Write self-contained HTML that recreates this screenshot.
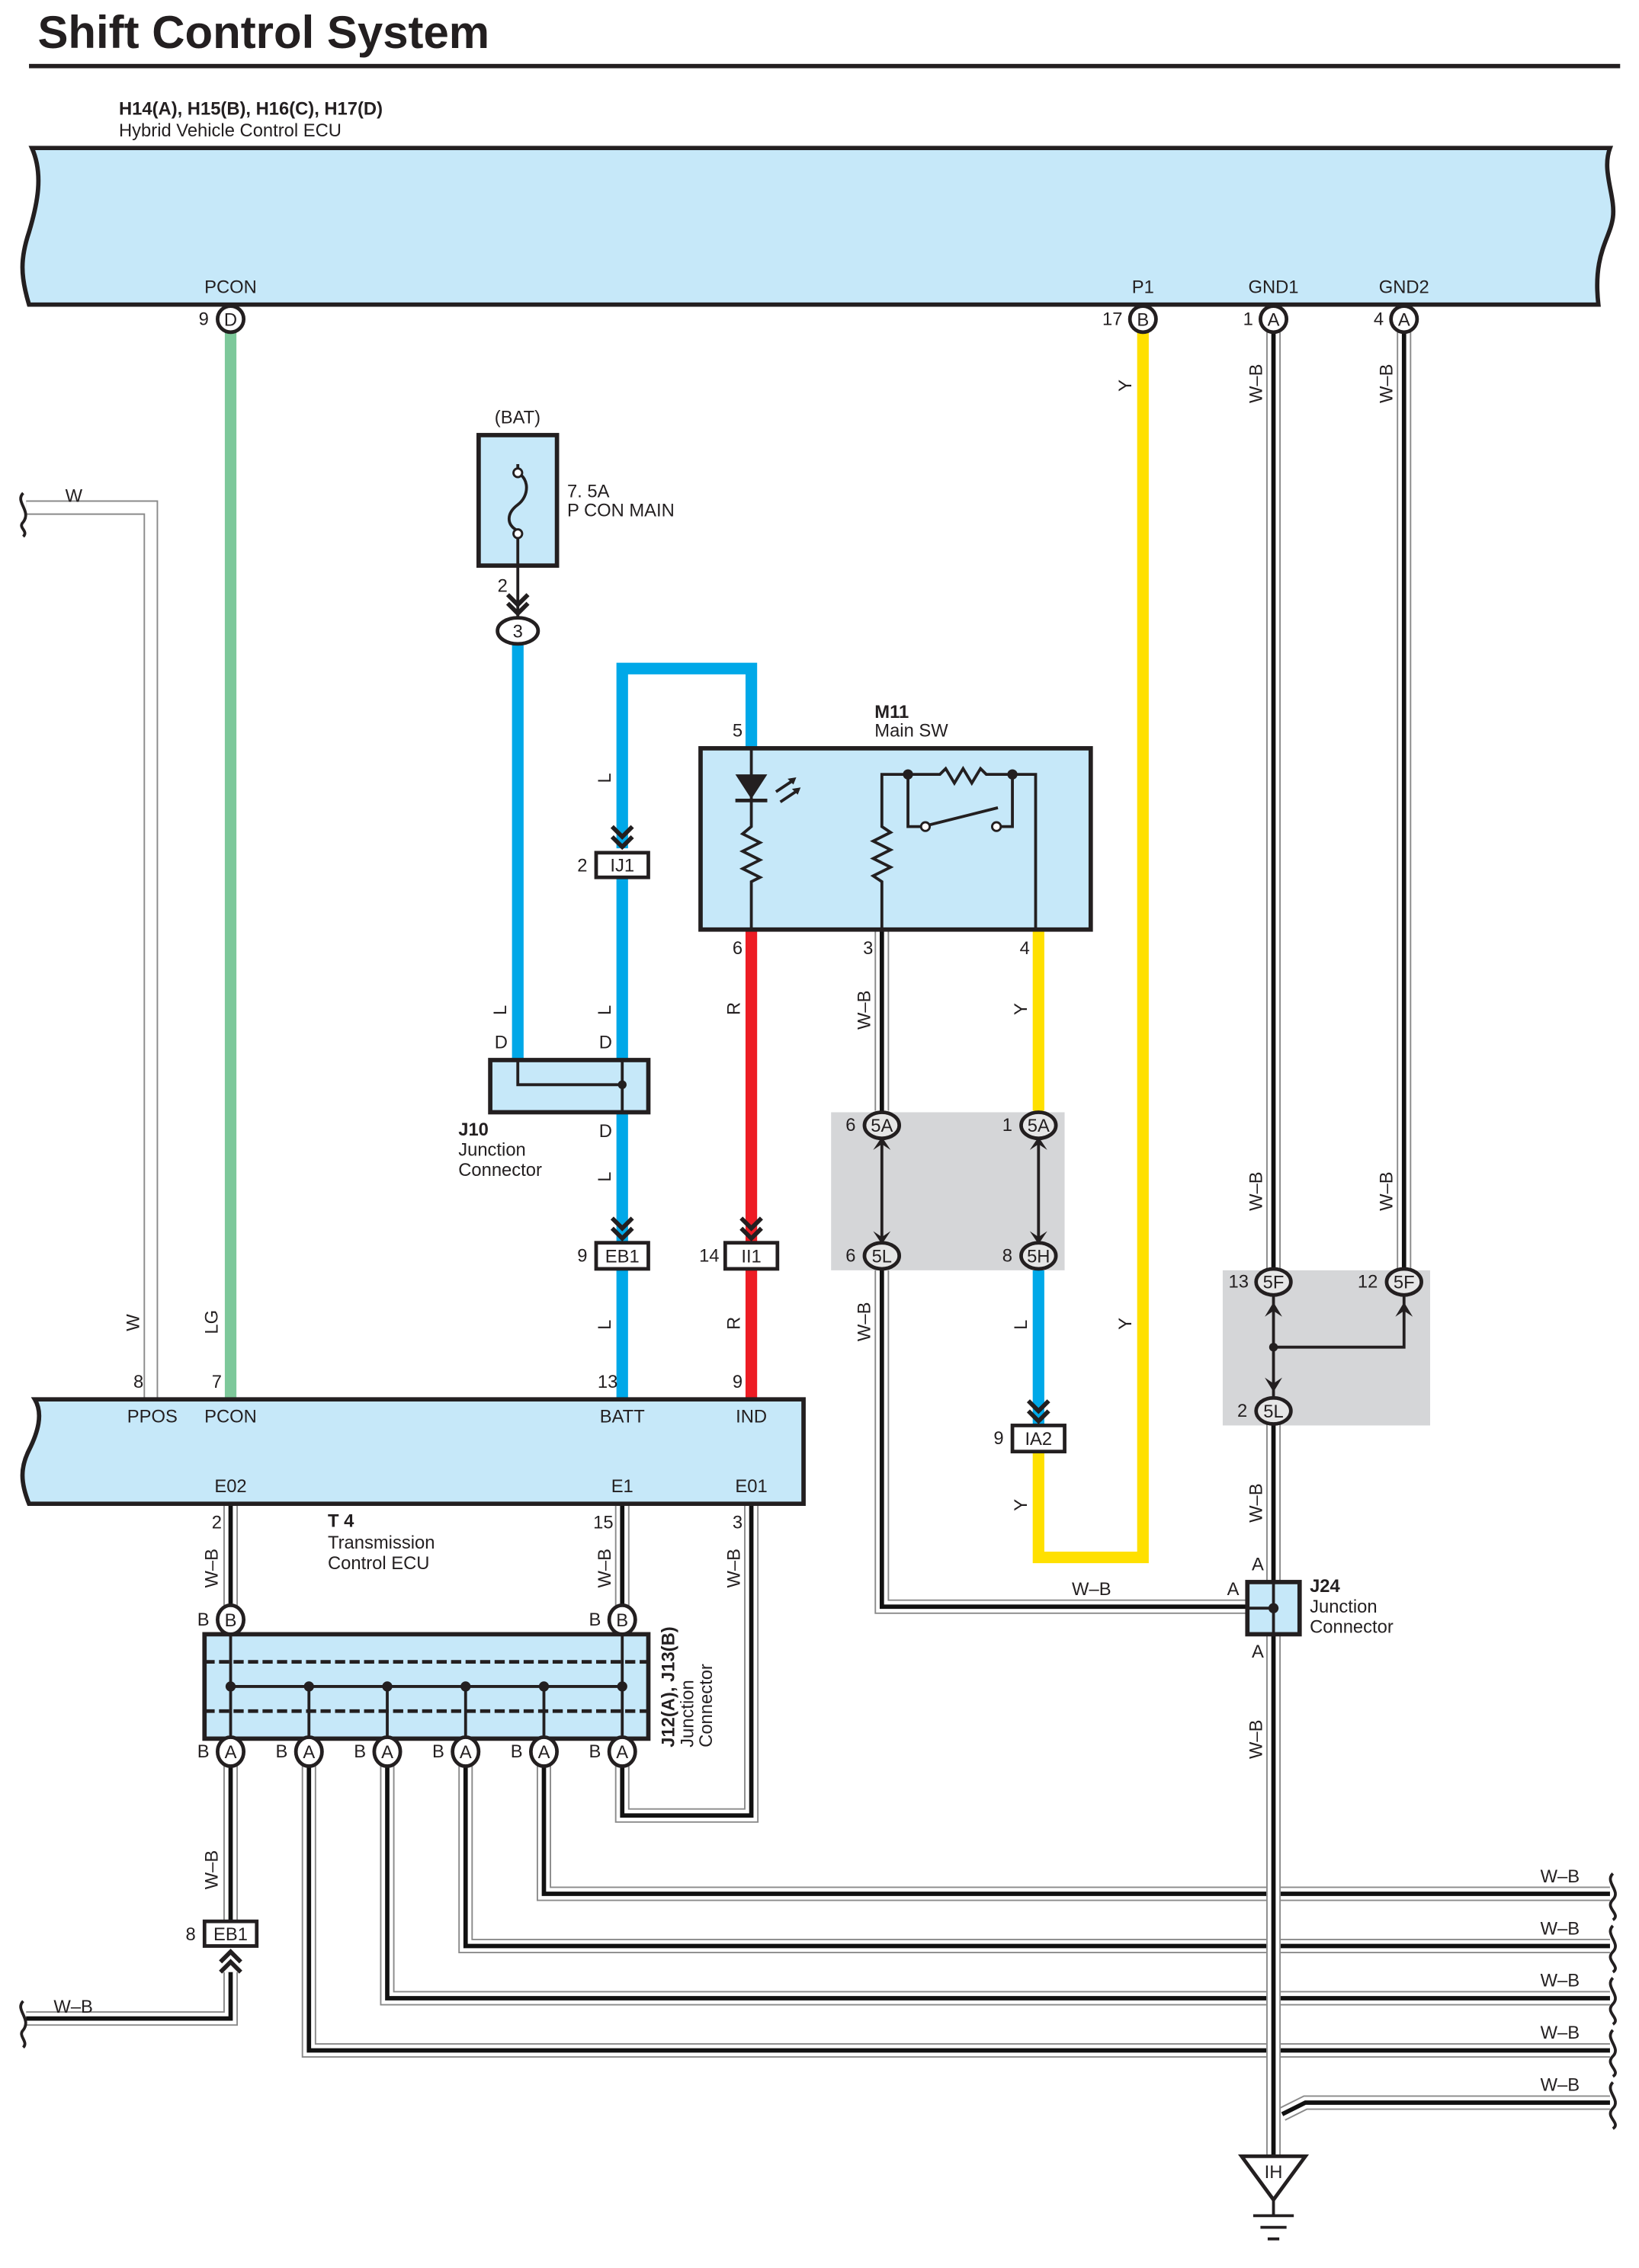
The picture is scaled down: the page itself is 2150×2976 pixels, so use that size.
<!DOCTYPE html>
<html><head><meta charset="utf-8"><style>
html,body{margin:0;padding:0;background:#fff}
svg{display:block}
text{font-family:"Liberation Sans",sans-serif;fill:#231f20}
.s{font-size:12.5px}
.b{font-weight:bold}
.wg{fill:none;stroke:#8a8a8a;stroke-width:10}
.ww{fill:none;stroke:#fff;stroke-width:8}
.wk{fill:none;stroke:#111;stroke-width:3}
.ln{fill:none;stroke:#231f20;stroke-width:2}
.box{fill:#c6e8f9;stroke:#231f20;stroke-width:3}
.ov{fill:#fff;stroke:#231f20;stroke-width:2.5}
.ovg{fill:#e6e6e6;stroke:#231f20;stroke-width:2.5}
.cb{fill:#fff;stroke:#231f20;stroke-width:2.5}
</style></head><body>
<svg width="2150" height="2976" viewBox="0 0 1130 1564" xmlns="http://www.w3.org/2000/svg">
<defs>
<path id="wb1" d="M878,229 V876"/>
<path id="wb2" d="M968,229 V876"/>
<path id="wb3" d="M878,982 V1487"/>
<path id="wb4" d="M608,641 V766"/>
<path id="wb5" d="M608,876 V1108 H860"/>
<path id="wb6" d="M159,1037 V1108"/>
<path id="wb7" d="M429,1037 V1108"/>
<path id="wb8" d="M518,1037 V1252 H429 V1217"/>
<path id="wb9" d="M159,1217 V1325"/>
<path id="wb10" d="M159,1360 V1392 H18"/>
<path id="wb11" d="M213,1217 V1414 H1110"/>
<path id="wb12" d="M267,1217 V1378 H1110"/>
<path id="wb13" d="M321,1217 V1342 H1110"/>
<path id="wb14" d="M375,1217 V1306 H1110"/>
<path id="wb15" d="M1110,1450 H900 L884,1458"/>
</defs>

<!-- title -->
<text x="26" y="33" class="b" style="font-size:31.5px">Shift Control System</text>
<rect x="20" y="44" width="1097" height="3" fill="#231f20"/>
<text x="82" y="79" class="b" style="font-size:12.5px">H14(A), H15(B), H16(C), H17(D)</text>
<text x="82" y="94" class="s">Hybrid Vehicle Control ECU</text>

<!-- top ECU -->
<path class="box" d="M22,102 H1110 C1104,118 1114,135 1112,150 C1110,165 1098,175 1102,210 H20 C14,190 14,178 20,160 C26,140 30,120 22,102 Z"/>
<text x="159" y="202" class="s" text-anchor="middle">PCON</text>
<text x="788" y="202" class="s" text-anchor="middle">P1</text>
<text x="878" y="202" class="s" text-anchor="middle">GND1</text>
<text x="968" y="202" class="s" text-anchor="middle">GND2</text>

<!-- W wire left -->
<path d="M18,350 H104 V965" fill="none" stroke="#8a8a8a" stroke-width="10"/>
<path d="M18,350 H104 V965" fill="none" stroke="#fff" stroke-width="8"/>
<path d="M16,340 C10,346 22,352 16,360 C12,364 20,366 16,370" class="ln"/>
<text x="45" y="346" class="s">W</text>

<!-- colored wires -->
<path d="M159,229 V965" stroke="#7dc89a" stroke-width="8" fill="none"/>
<path d="M788,229 V1074 H716 V1001" stroke="#ffe000" stroke-width="8" fill="none"/>
<path d="M716,641 V766" stroke="#ffe000" stroke-width="8" fill="none"/>
<path d="M357,444 V731" stroke="#00a8e8" stroke-width="8" fill="none"/>
<path d="M429,585 V461 H518 V516" stroke="#00a8e8" stroke-width="8" fill="none"/>
<path d="M429,605 V731" stroke="#00a8e8" stroke-width="8" fill="none"/>
<path d="M429,767 V857" stroke="#00a8e8" stroke-width="8" fill="none"/>
<path d="M429,875 V965" stroke="#00a8e8" stroke-width="8" fill="none"/>
<path d="M716,876 V983" stroke="#00a8e8" stroke-width="8" fill="none"/>
<path d="M518,641 V857" stroke="#ed1c24" stroke-width="8" fill="none"/>
<path d="M518,875 V965" stroke="#ed1c24" stroke-width="8" fill="none"/>

<!-- gray boxes -->
<rect x="573" y="767" width="161" height="109" fill="#d5d6d8"/>
<rect x="843" y="876" width="143" height="107" fill="#d5d6d8"/>

<!-- W-B wires -->
<g class="wg"><use href="#wb1"/><use href="#wb2"/><use href="#wb4"/><use href="#wb5"/><use href="#wb6"/><use href="#wb7"/><use href="#wb8"/><use href="#wb9"/><use href="#wb10"/><use href="#wb11"/><use href="#wb12"/><use href="#wb13"/><use href="#wb14"/><use href="#wb15"/></g>
<g class="ww"><use href="#wb1"/><use href="#wb2"/><use href="#wb4"/><use href="#wb5"/><use href="#wb6"/><use href="#wb7"/><use href="#wb8"/><use href="#wb9"/><use href="#wb10"/><use href="#wb11"/><use href="#wb12"/><use href="#wb13"/><use href="#wb14"/><use href="#wb15"/></g>
<g class="wk"><use href="#wb1"/><use href="#wb2"/><use href="#wb4"/><use href="#wb5"/><use href="#wb6"/><use href="#wb7"/><use href="#wb8"/><use href="#wb9"/><use href="#wb10"/><use href="#wb11"/><use href="#wb12"/><use href="#wb13"/><use href="#wb14"/><use href="#wb15"/></g>
<use href="#wb3" class="wg"/><use href="#wb3" class="ww"/><use href="#wb3" class="wk"/>

<!-- wavy ends right -->
<g class="ln">
<path d="M1112,1292 C1106,1298 1118,1304 1112,1310 C1106,1316 1118,1320 1112,1324"/>
<path d="M1112,1328 C1106,1334 1118,1340 1112,1346 C1106,1352 1118,1356 1112,1360"/>
<path d="M1112,1364 C1106,1370 1118,1376 1112,1382 C1106,1388 1118,1392 1112,1396"/>
<path d="M1112,1400 C1106,1406 1118,1412 1112,1418 C1106,1424 1118,1428 1112,1432"/>
<path d="M1112,1436 C1106,1442 1118,1448 1112,1454 C1106,1460 1118,1464 1112,1468"/>
<path d="M16,1380 C10,1386 22,1392 16,1400 C12,1404 20,1408 16,1412"/>
</g>
<text x="1062" y="1298" class="s">W–B</text>
<text x="1062" y="1334" class="s">W–B</text>
<text x="1062" y="1370" class="s">W–B</text>
<text x="1062" y="1406" class="s">W–B</text>
<text x="1062" y="1442" class="s">W–B</text>
<text x="37" y="1388" class="s">W–B</text>

<!-- top connectors -->
<circle cx="159" cy="220" r="9" class="cb"/><text x="159" y="224.5" class="s" text-anchor="middle">D</text><text x="137" y="224" class="s">9</text>
<circle cx="788" cy="220" r="9" class="cb"/><text x="788" y="224.5" class="s" text-anchor="middle">B</text><text x="760" y="224" class="s">17</text>
<circle cx="878" cy="220" r="9" class="cb"/><text x="878" y="224.5" class="s" text-anchor="middle">A</text><text x="857" y="224" class="s">1</text>
<circle cx="968" cy="220" r="9" class="cb"/><text x="968" y="224.5" class="s" text-anchor="middle">A</text><text x="947" y="224" class="s">4</text>

<!-- rotated labels -->
<g class="s">
<text transform="translate(780,270) rotate(-90)">Y</text>
<text transform="translate(870,278) rotate(-90)">W–B</text>
<text transform="translate(960,278) rotate(-90)">W–B</text>
<text transform="translate(421,540) rotate(-90)">L</text>
<text transform="translate(349,700) rotate(-90)">L</text>
<text transform="translate(421,700) rotate(-90)">L</text>
<text transform="translate(510,700) rotate(-90)">R</text>
<text transform="translate(600,710) rotate(-90)">W–B</text>
<text transform="translate(708,700) rotate(-90)">Y</text>
<text transform="translate(421,815) rotate(-90)">L</text>
<text transform="translate(870,835) rotate(-90)">W–B</text>
<text transform="translate(960,835) rotate(-90)">W–B</text>
<text transform="translate(96,918) rotate(-90)">W</text>
<text transform="translate(150,920) rotate(-90)">LG</text>
<text transform="translate(421,917) rotate(-90)">L</text>
<text transform="translate(510,917) rotate(-90)">R</text>
<text transform="translate(600,925) rotate(-90)">W–B</text>
<text transform="translate(708,917) rotate(-90)">L</text>
<text transform="translate(780,917) rotate(-90)">Y</text>
<text transform="translate(708,1042) rotate(-90)">Y</text>
<text transform="translate(870,1050) rotate(-90)">W–B</text>
<text transform="translate(150,1095) rotate(-90)">W–B</text>
<text transform="translate(421,1095) rotate(-90)">W–B</text>
<text transform="translate(510,1095) rotate(-90)">W–B</text>
<text transform="translate(870,1213) rotate(-90)">W–B</text>
<text transform="translate(150,1303) rotate(-90)">W–B</text>
</g>

<!-- fuse -->
<text x="341" y="292" class="s">(BAT)</text>
<rect x="330" y="300" width="54" height="90" class="box"/>
<path d="M357,320 V326 C365,330 365,342 357,348 C349,354 349,362 357,366 V390 V412" class="ln"/>
<circle cx="357" cy="326" r="3" fill="#fff" stroke="#231f20" stroke-width="1.5"/>
<circle cx="357" cy="368" r="3" fill="#fff" stroke="#231f20" stroke-width="1.5"/>
<text x="391" y="343" class="s">7. 5A</text>
<text x="391" y="356" class="s">P CON MAIN</text>
<text x="343" y="408" class="s">2</text>
<path d="M350,410 L357,417 L364,410 M350,416 L357,423 L364,416" fill="none" stroke="#231f20" stroke-width="3"/>
<line x1="357" y1="412" x2="357" y2="426" class="ln"/>
<ellipse cx="357" cy="435" rx="14" ry="9" class="ov"/><text x="357" y="439.5" class="s" text-anchor="middle">3</text>

<!-- IJ1 -->
<path d="M422,570 L429,577 L436,570 M422,577 L429,584 L436,577" fill="none" stroke="#231f20" stroke-width="3"/>
<rect x="411" y="588" width="36" height="17" class="cb"/><text x="429" y="601" class="s" text-anchor="middle">IJ1</text>
<text x="398" y="601" class="s">2</text>

<!-- J10 -->
<text x="341" y="723" class="s">D</text><text x="413" y="723" class="s">D</text>
<rect x="338" y="731" width="109" height="36" class="box"/>
<path d="M357,731 V748 H429 V731 M429,748 V767" class="ln"/>
<circle cx="429" cy="748" r="3" fill="#231f20"/>
<text x="413" y="784" class="s">D</text>
<text x="316" y="783" class="s b">J10</text>
<text x="316" y="797" class="s">Junction</text>
<text x="316" y="811" class="s">Connector</text>

<!-- EB1 / II1 -->
<path d="M422,840 L429,847 L436,840 M422,847 L429,854 L436,847" fill="none" stroke="#231f20" stroke-width="3"/>
<rect x="411" y="857" width="36" height="18" class="cb"/><text x="429" y="870.5" class="s" text-anchor="middle">EB1</text>
<text x="398" y="870" class="s">9</text>
<path d="M511,840 L518,847 L525,840 M511,847 L518,854 L525,847" fill="none" stroke="#231f20" stroke-width="3"/>
<rect x="500" y="857" width="36" height="18" class="cb"/><text x="518" y="870.5" class="s" text-anchor="middle">II1</text>
<text x="482" y="870" class="s">14</text>

<!-- M11 -->
<text x="603" y="495" class="s b">M11</text>
<text x="603" y="508" class="s">Main SW</text>
<text x="505" y="508" class="s">5</text>
<rect x="483" y="516" width="269" height="125" class="box"/>
<g class="ln">
<path d="M518,516 V570 L512,575 L524,581 L512,587 L524,593 L512,599 L524,605 L518,608 V641"/>
<path d="M608,641 V608 L602,604 L614,598 L602,592 L614,586 L602,580 L614,574 L608,570 V534 H626 H648 L652,530 L658,540 L664,530 L670,540 L676,530 L680,534 H714 V641"/>
<path d="M626,534 V570 H638 M698,534 V570 H690"/>
<path d="M640,569 L688,557"/>
</g>
<path d="M507,534 H529 L518,551 Z" fill="#231f20"/>
<path d="M507,552 H529" stroke="#231f20" stroke-width="2.5"/>
<path d="M535,546 L547,538 M538,553 L550,545" stroke="#231f20" stroke-width="2"/>
<path d="M549,536 L543,537 L547,541 Z M552,543 L546,544 L550,548 Z" fill="#231f20"/>
<circle cx="626" cy="534" r="3.5" fill="#231f20"/><circle cx="698" cy="534" r="3.5" fill="#231f20"/>
<circle cx="638" cy="570" r="3" fill="#fff" stroke="#231f20" stroke-width="1.5"/>
<circle cx="687" cy="570" r="3" fill="#fff" stroke="#231f20" stroke-width="1.5"/>
<text x="505" y="658" class="s">6</text><text x="595" y="658" class="s">3</text><text x="703" y="658" class="s">4</text>

<!-- gray box connectors -->
<g stroke="#231f20" stroke-width="2" fill="none"><path d="M608,786 V856 M716,786 V856"/></g>
<g fill="#231f20">
<path d="M602,793 L608,784 L614,793 L608,789 Z"/><path d="M602,849 L608,858 L614,849 L608,853 Z"/>
<path d="M710,793 L716,784 L722,793 L716,789 Z"/><path d="M710,849 L716,858 L722,849 L716,853 Z"/>
</g>
<ellipse cx="608" cy="776" rx="12" ry="9" class="ovg"/><text x="608" y="780.5" class="s" text-anchor="middle">5A</text><text x="583" y="780" class="s">6</text>
<ellipse cx="716" cy="776" rx="12" ry="9" class="ovg"/><text x="716" y="780.5" class="s" text-anchor="middle">5A</text><text x="691" y="780" class="s">1</text>
<ellipse cx="608" cy="866" rx="12" ry="9" class="ovg"/><text x="608" y="870.5" class="s" text-anchor="middle">5L</text><text x="583" y="870" class="s">6</text>
<ellipse cx="716" cy="866" rx="12" ry="9" class="ovg"/><text x="716" y="870.5" class="s" text-anchor="middle">5H</text><text x="691" y="870" class="s">8</text>

<!-- IA2 -->
<path d="M709,966 L716,973 L723,966 M709,973 L716,980 L723,973" fill="none" stroke="#231f20" stroke-width="3"/>
<rect x="698" y="983" width="36" height="18" class="cb"/><text x="716" y="996.5" class="s" text-anchor="middle">IA2</text>
<text x="685" y="996" class="s">9</text>

<!-- right gray box -->
<path d="M878,893 V965 M878,929 H968 V893" class="ln"/>
<circle cx="878" cy="929" r="3" fill="#231f20"/>
<g fill="#231f20">
<path d="M872,908 L878,898 L884,908 L878,904 Z"/><path d="M962,908 L968,898 L974,908 L968,904 Z"/>
<path d="M872,950 L878,960 L884,950 L878,954 Z"/>
</g>
<ellipse cx="878" cy="884" rx="12" ry="9" class="ovg"/><text x="878" y="888.5" class="s" text-anchor="middle">5F</text><text x="847" y="888" class="s">13</text>
<ellipse cx="968" cy="884" rx="12" ry="9" class="ovg"/><text x="968" y="888.5" class="s" text-anchor="middle">5F</text><text x="936" y="888" class="s">12</text>
<ellipse cx="878" cy="973" rx="12" ry="9" class="ovg"/><text x="878" y="977.5" class="s" text-anchor="middle">5L</text><text x="853" y="977" class="s">2</text>

<!-- J24 -->
<text x="739" y="1100" class="s">W–B</text>
<text x="863" y="1083" class="s">A</text><text x="846" y="1100" class="s">A</text><text x="863" y="1143" class="s">A</text>
<rect x="860" y="1091" width="36" height="36" class="box"/>
<path d="M860,1109 H878 M878,1091 V1127" class="ln"/>
<circle cx="878" cy="1109" r="3.5" fill="#231f20"/>
<text x="903" y="1098" class="s b">J24</text>
<text x="903" y="1112" class="s">Junction</text>
<text x="903" y="1126" class="s">Connector</text>

<!-- ground -->
<path d="M856,1487 H900 L878,1517 Z" fill="#fff" stroke="#231f20" stroke-width="2.5"/>
<text x="878" y="1502" class="s" text-anchor="middle">IH</text>
<path d="M878,1517 V1527 M864,1528 H892 M869,1536 H887 M874,1544 H882" class="ln"/>

<!-- T4 -->
<path class="box" d="M24,965 H554 V1037 H20 C14,1022 14,1012 20,1000 C26,988 30,975 24,965 Z"/>
<text x="92" y="957" class="s">8</text><text x="146" y="957" class="s">7</text>
<text x="412" y="957" class="s">13</text><text x="505" y="957" class="s">9</text>
<text x="105" y="981" class="s" text-anchor="middle">PPOS</text>
<text x="159" y="981" class="s" text-anchor="middle">PCON</text>
<text x="429" y="981" class="s" text-anchor="middle">BATT</text>
<text x="518" y="981" class="s" text-anchor="middle">IND</text>
<text x="159" y="1029" class="s" text-anchor="middle">E02</text>
<text x="429" y="1029" class="s" text-anchor="middle">E1</text>
<text x="518" y="1029" class="s" text-anchor="middle">E01</text>
<text x="146" y="1054" class="s">2</text><text x="409" y="1054" class="s">15</text><text x="505" y="1054" class="s">3</text>
<text x="226" y="1053" class="s b">T 4</text>
<text x="226" y="1068" class="s">Transmission</text>
<text x="226" y="1082" class="s">Control ECU</text>

<!-- J12/J13 -->
<rect x="141" y="1127" width="306" height="72" class="box"/>
<path d="M141,1146 H447 M141,1180 H447" stroke="#231f20" stroke-width="2.5" stroke-dasharray="7,3" fill="none"/>
<g class="ln">
<path d="M159,1127 V1199 M429,1127 V1199 M159,1163 H429 M213,1163 V1199 M267,1163 V1199 M321,1163 V1199 M375,1163 V1199"/>
</g>
<g fill="#231f20"><circle cx="159" cy="1163" r="3.5"/><circle cx="213" cy="1163" r="3.5"/><circle cx="267" cy="1163" r="3.5"/><circle cx="321" cy="1163" r="3.5"/><circle cx="375" cy="1163" r="3.5"/><circle cx="429" cy="1163" r="3.5"/></g>
<ellipse cx="159" cy="1117" rx="9" ry="10" class="cb"/><text x="159" y="1121.5" class="s" text-anchor="middle">B</text><text x="136" y="1121" class="s">B</text>
<ellipse cx="429" cy="1117" rx="9" ry="10" class="cb"/><text x="429" y="1121.5" class="s" text-anchor="middle">B</text><text x="406" y="1121" class="s">B</text>
<g>
<ellipse cx="159" cy="1208" rx="9" ry="10" class="cb"/><text x="159" y="1212.5" class="s" text-anchor="middle">A</text><text x="136" y="1212" class="s">B</text>
<ellipse cx="213" cy="1208" rx="9" ry="10" class="cb"/><text x="213" y="1212.5" class="s" text-anchor="middle">A</text><text x="190" y="1212" class="s">B</text>
<ellipse cx="267" cy="1208" rx="9" ry="10" class="cb"/><text x="267" y="1212.5" class="s" text-anchor="middle">A</text><text x="244" y="1212" class="s">B</text>
<ellipse cx="321" cy="1208" rx="9" ry="10" class="cb"/><text x="321" y="1212.5" class="s" text-anchor="middle">A</text><text x="298" y="1212" class="s">B</text>
<ellipse cx="375" cy="1208" rx="9" ry="10" class="cb"/><text x="375" y="1212.5" class="s" text-anchor="middle">A</text><text x="352" y="1212" class="s">B</text>
<ellipse cx="429" cy="1208" rx="9" ry="10" class="cb"/><text x="429" y="1212.5" class="s" text-anchor="middle">A</text><text x="406" y="1212" class="s">B</text>
</g>
<text transform="translate(465,1205) rotate(-90)" class="s b">J12(A), J13(B)</text>
<text transform="translate(478,1205) rotate(-90)" class="s">Junction</text>
<text transform="translate(491,1205) rotate(-90)" class="s">Connector</text>

<!-- EB1 lower -->
<rect x="141" y="1325" width="36" height="17" class="cb"/><text x="159" y="1338" class="s" text-anchor="middle">EB1</text>
<text x="128" y="1338" class="s">8</text>
<path d="M152,1353 L159,1346 L166,1353 M152,1360 L159,1353 L166,1360" fill="none" stroke="#231f20" stroke-width="3"/>
</svg>
</body></html>
